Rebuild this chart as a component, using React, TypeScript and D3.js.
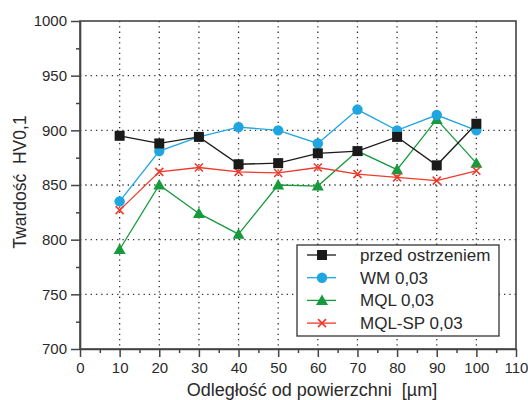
import React, { useEffect, useRef } from "react";
import * as d3 from "d3";

// depth from surface [um]
const depths = [10, 20, 30, 40, 50, 60, 70, 80, 90, 100];

const przedOstrzeniem = [895, 888, 894, 869, 870, 879, 881, 894, 868, 906];
const wm003 = [835, 881, 894, 903, 900, 888, 919, 900, 914, 900];
const mql003 = [791, 850, 824, 805, 850, 849, 881, 864, 910, 870];
const mqlSp003 = [827, 862, 866, 862, 861, 866, 860, 857, 854, 863];

const seriesNames = ["przed ostrzeniem", "WM 0,03", "MQL 0,03", "MQL-SP 0,03"];
const seriesColors = ["#1a1a1a", "#1fa6e0", "#169a3c", "#ef3a2c"];
const seriesMarkers = ["square", "circle", "triangle", "cross"];

const xTicks = [0, 10, 20, 30, 40, 50, 60, 70, 80, 90, 100, 110];
const yTicks = [700, 750, 800, 850, 900, 950, 1000];

const FONT = "'Liberation Sans', Arial, sans-serif";

const App = () => {
    const svgRef = useRef<SVGSVGElement>(null);

    useEffect(() => {
        const svg = d3.select(svgRef.current);
        svg.selectAll("*").remove();

        const dims = { width: 528, height: 400, margin: { top: 21, right: 12, bottom: 51, left: 80 } };
        const x = d3.scaleLinear().domain([0, 110]).range([dims.margin.left, dims.width - dims.margin.right]);
        const y = d3.scaleLinear().domain([700, 1000]).range([dims.height - dims.margin.bottom, dims.margin.top]);

        const g = svg.append("g");

        /** dotted grid */
        const grid = g.append("g").attr("class", "grid");
        xTicks.filter(t => t > 0 && t < 110).forEach(t => {
            grid.append("line")
                .attr("x1", x(t)).attr("x2", x(t))
                .attr("y1", y(1000)).attr("y2", y(700))
                .attr("stroke", "#333").attr("stroke-width", 1.3)
                .attr("stroke-dasharray", "1.3,4");
        });
        yTicks.filter(t => t > 700 && t < 1000).forEach(t => {
            grid.append("line")
                .attr("x1", x(0)).attr("x2", x(110))
                .attr("y1", y(t)).attr("y2", y(t))
                .attr("stroke", "#333").attr("stroke-width", 1.3)
                .attr("stroke-dasharray", "1.3,4");
        });

        /** frame (top, right) */
        g.append("rect")
            .attr("x", x(0)).attr("y", y(1000))
            .attr("width", x(110) - x(0)).attr("height", y(700) - y(1000))
            .attr("fill", "none").attr("stroke", "#444").attr("stroke-width", 1.6);

        /** axes */
        const xAxis = g.append("g")
            .attr("transform", `translate(0,${y(700)})`)
            .call(d3.axisBottom(x).tickValues(xTicks).tickFormat(d3.format("d")).tickSize(8).tickSizeOuter(0).tickPadding(5));
        g.append("g")
            .attr("transform", `translate(0,${y(700)})`)
            .call(d3.axisBottom(x).tickValues(d3.range(5, 110, 10)).tickSize(4).tickFormat(() => ""))
            .call(a => a.select(".domain").remove());

        const yAxis = g.append("g")
            .attr("transform", `translate(${x(0)},0)`)
            .call(d3.axisLeft(y).tickValues(yTicks).tickFormat(d3.format("d")).tickSize(9).tickSizeOuter(0).tickPadding(4));
        g.append("g")
            .attr("transform", `translate(${x(0)},0)`)
            .call(d3.axisLeft(y).tickValues(d3.range(725, 1000, 50)).tickSize(4).tickFormat(() => ""))
            .call(a => a.select(".domain").remove());

        [xAxis, yAxis].forEach(a => {
            a.selectAll("path").attr("stroke", "#444").attr("stroke-width", 1.6);
            a.selectAll("text").attr("font-family", FONT).attr("font-size", 15).attr("fill", "#2a2a2a");
        });
        svg.selectAll(".tick line").attr("stroke", "#444").attr("stroke-width", 1.5);

        /** axis titles */
        g.append("text")
            .attr("x", 312).attr("y", 396)
            .attr("text-anchor", "middle")
            .attr("font-family", FONT).attr("font-size", 18).attr("fill", "#2a2a2a")
            .attr("xml:space", "preserve")
            .text("Odległość od powierzchni  [µm]");
        g.append("text")
            .attr("transform", `translate(26,182) rotate(-90)`)
            .attr("text-anchor", "middle")
            .attr("font-family", FONT).attr("font-size", 17.5).attr("fill", "#2a2a2a")
            .attr("xml:space", "preserve")
            .text("Twardość  HV0,1");

        const drawMarker = (sel, kind, color, cx, cy) => {
            if (kind === "square") {
                sel.append("rect").attr("x", cx - 5).attr("y", cy - 5).attr("width", 10).attr("height", 10)
                    .attr("fill", color);
            } else if (kind === "circle") {
                sel.append("circle").attr("cx", cx).attr("cy", cy).attr("r", 5.2).attr("fill", color);
            } else if (kind === "triangle") {
                sel.append("path").attr("d", `M${cx},${cy - 6}L${cx + 6},${cy + 4.5}L${cx - 6},${cy + 4.5}Z`)
                    .attr("fill", color);
            } else {
                sel.append("path").attr("d", `M${cx - 4},${cy - 4}L${cx + 4},${cy + 4}M${cx - 4},${cy + 4}L${cx + 4},${cy - 4}`)
                    .attr("stroke", color).attr("stroke-width", 1.6).attr("fill", "none");
            }
        };

        /** series */
        const allSeries = [przedOstrzeniem, wm003, mql003, mqlSp003];
        const line = d3.line<number>().x((d, i) => x(depths[i])).y(d => y(d));
        [2, 3, 1, 0].forEach(s => {
            const grp = g.append("g");
            grp.append("path")
                .attr("d", line(allSeries[s]))
                .attr("fill", "none")
                .attr("stroke", seriesColors[s])
                .attr("stroke-width", 1.3);
            allSeries[s].forEach((v, i) => drawMarker(grp, seriesMarkers[s], seriesColors[s], x(depths[i]), y(v)));
        });

        /** legend */
        const legend = g.append("g").attr("transform", "translate(297,245)");
        legend.append("rect").attr("width", 202).attr("height", 91)
            .attr("fill", "white").attr("stroke", "#333").attr("stroke-width", 1.3);
        seriesNames.forEach((name, i) => {
            const ly = 10 + i * 22.7;
            legend.append("line").attr("x1", 10).attr("x2", 39).attr("y1", ly).attr("y2", ly)
                .attr("stroke", seriesColors[i]).attr("stroke-width", 1.3);
            drawMarker(legend, seriesMarkers[i], seriesColors[i], 25, ly);
            legend.append("text").attr("x", 63).attr("y", ly + 6)
                .attr("font-family", FONT).attr("font-size", 17).attr("fill", "#2a2a2a")
                .text(name);
        });
    }, []);

    return (
        <svg ref={svgRef} width={528} height={400}
            style={{ position: "absolute", left: 0, top: 0, background: "white" }} />
    );
};

export default App;
